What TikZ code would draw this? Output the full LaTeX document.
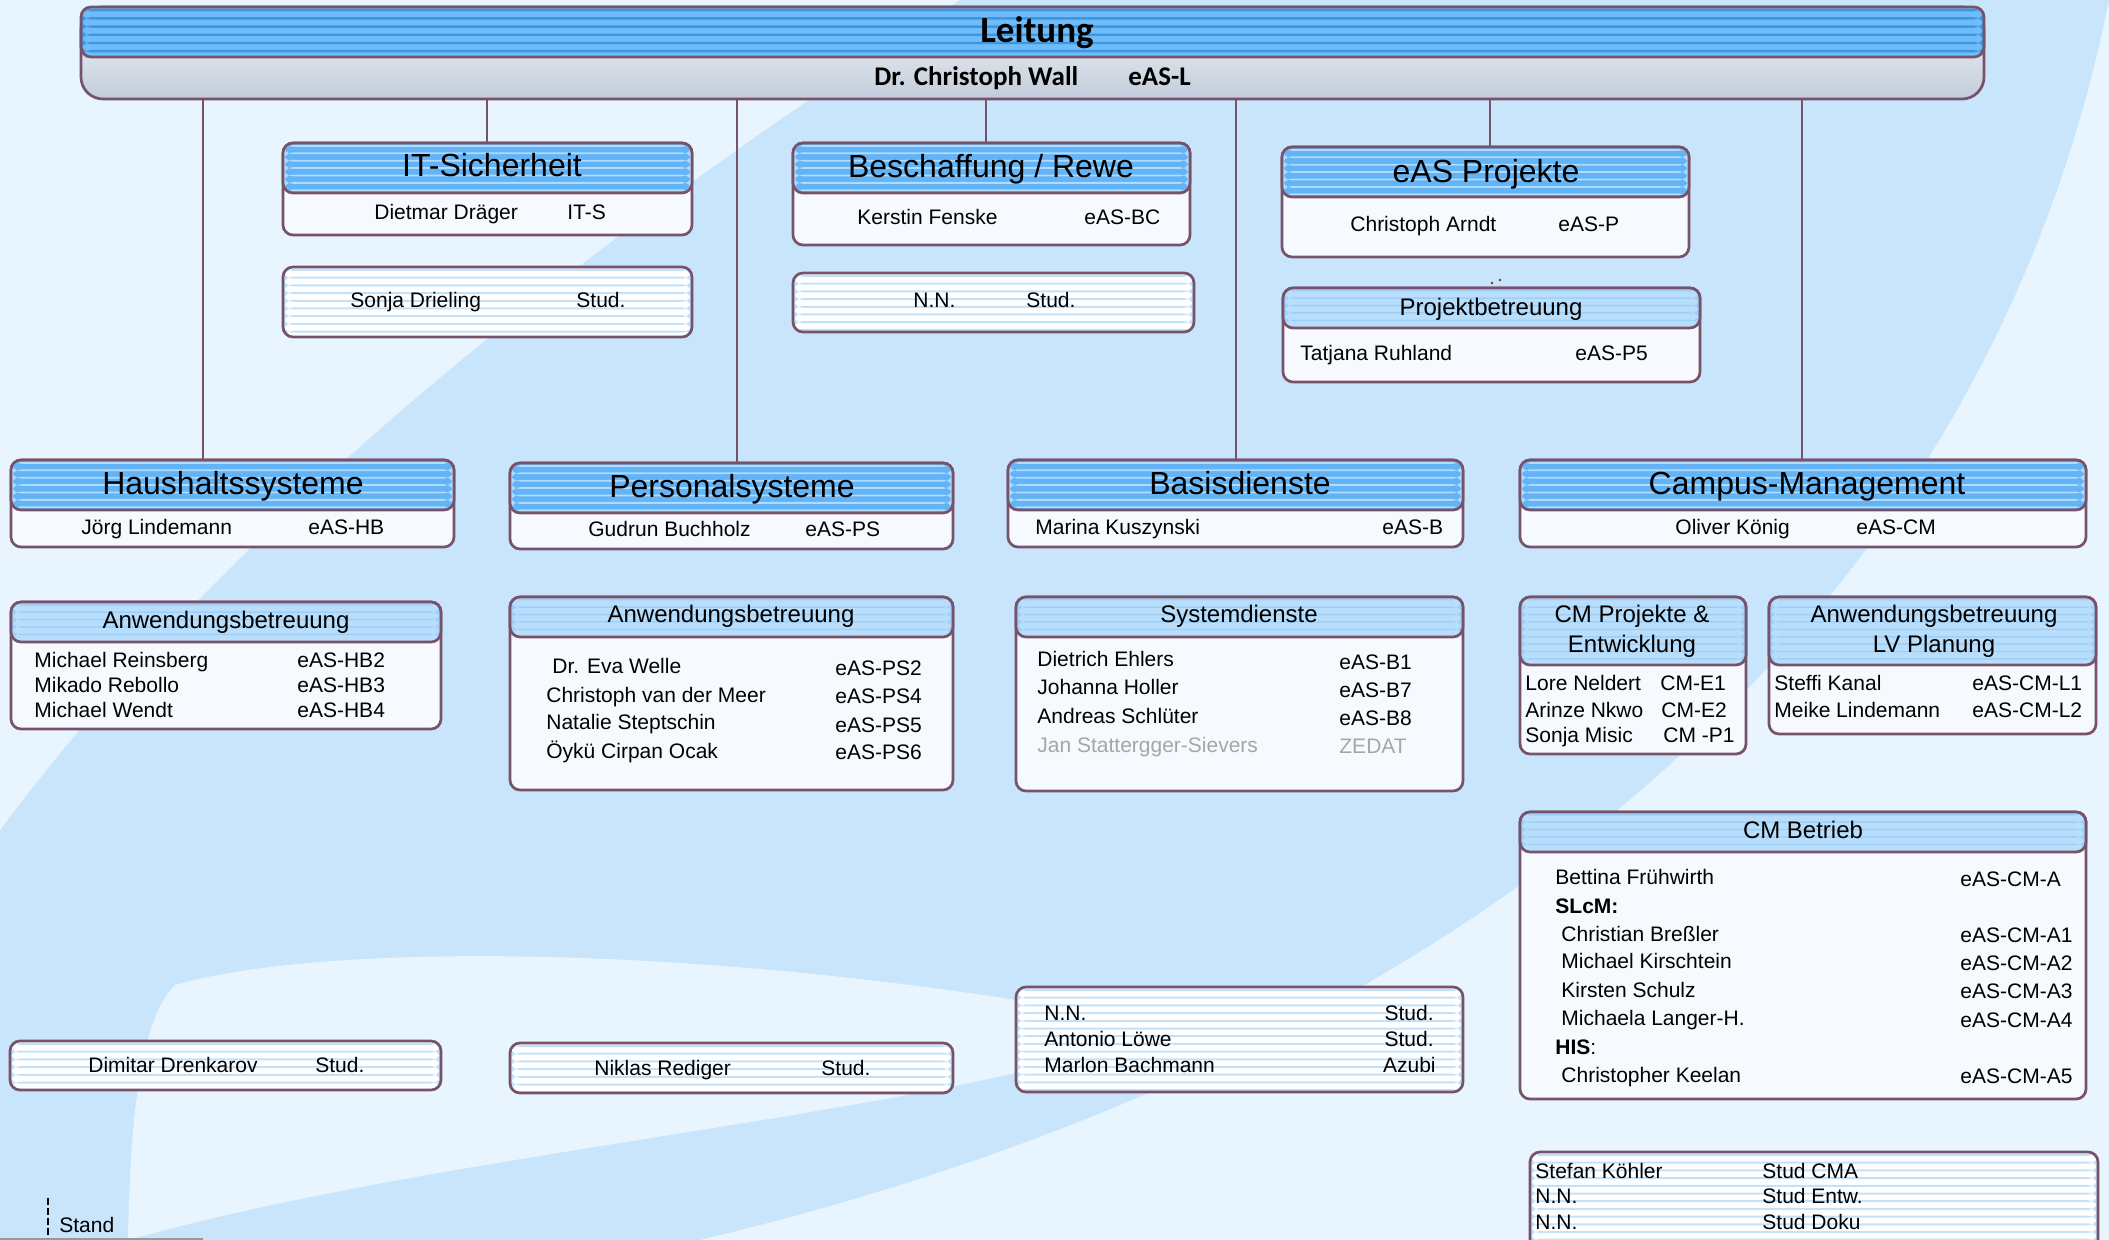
\documentclass[tikz,border=0pt]{standalone}
\usepackage{fontspec}
\setmainfont{Liberation Sans}
\newfontfamily\calfont{Carlito}
\usetikzlibrary{calc}
\definecolor{bgm}{HTML}{C9E5FC}
\definecolor{bgl}{HTML}{E8F4FE}
\definecolor{bord}{HTML}{76536A}
\definecolor{headA}{HTML}{63B4F6}
\definecolor{headAs}{HTML}{B0DBFD}
\definecolor{headB}{HTML}{B9DEFB}
\definecolor{headBs}{HTML}{9ECFF8}
\definecolor{leadA}{HTML}{6FBCF9}
\definecolor{leadAs}{HTML}{3D96E1}
\definecolor{studs}{HTML}{C2E2FB}
\definecolor{bodyc}{HTML}{F6FAFE}
\definecolor{leadtop}{HTML}{F6F8FB}
\definecolor{leadbot}{HTML}{C2CCDA}
\definecolor{greyt}{HTML}{A6A6A6}
\tikzset{
  bx/.style={draw=bord, line width=1.35pt, rounded corners=5pt, outer sep=0pt, inner sep=0pt},
  body/.style={bx, fill=bodyc},
  striped/.style n args={4}{fill=#1, path picture={%
     \foreach \k in {0,...,34}{%
       \fill[#2] ([yshift={-\k*#4-1pt}]path picture bounding box.north west) rectangle ([yshift={-\k*#4-1pt-#3}]path picture bounding box.north east);}}},
  mainhead/.style={bx, striped={headA}{headAs}{0.9pt}{3.7pt}},
  subhead/.style={bx, striped={headB}{headBs}{0.75pt}{3.7pt}},
  stud/.style={bx, striped={white}{studs}{1pt}{3.85pt}},
  leadhead/.style={bx, striped={leadA}{leadAs}{1.2pt}{4.1pt}},
  leadbody/.style={bx, rounded corners=11pt, top color=leadtop, bottom color=leadbot},
  conn/.style={draw=bord, line width=1pt},
  txt/.style={anchor=base west, inner sep=0pt, font=\fontsize{10.5}{12}\selectfont},
  txtr/.style={txt, anchor=base east},
  ttl/.style={anchor=base, inner sep=0pt, font=\fontsize{16}{18}\selectfont},
  sttl/.style={anchor=base, inner sep=0pt, font=\fontsize{12}{14}\selectfont},
  ttlL/.style={anchor=base, inner sep=0pt, font=\calfont\bfseries\fontsize{18.5}{20}\selectfont},
  boldL/.style={anchor=base west, inner sep=0pt, font=\calfont\bfseries\fontsize{13.5}{15}\selectfont},
}
\newcommand\obx[6]{\node[#6, anchor=north west, minimum width={(#4-#2)*0.5pt}, minimum height={(#5-#3)*0.5pt}] (#1) at (#2,#3) {};}
\newcommand\ptx[5][txt]{\node[#1] (#2) at (#3,#4) {#5};}
\begin{document}
\begin{tikzpicture}[x=0.5pt, y=-0.5pt]
\useasboundingbox (0,0) rectangle (2109,1240);
% background
\fill[bgm] (0,0) rectangle (2109,1240);
\fill[bgl] (0,0) -- (960,0) .. controls (600,230) and (230,520) .. (0,830) -- cycle;
\fill[bgl] (128,1240) .. controls (130,1120) and (140,1020) .. (175,985) .. controls (350,935) and (800,950) .. (1180,1030) .. controls (900,1120) and (450,1150) .. (128,1240) -- cycle;
\fill[bgl] (2109,0) -- (2109,1240) -- (700,1240) .. controls (1500,1050) and (1990,600) .. (2109,0) -- cycle;

% Leitung
\obx{lead}{81}{7}{1984}{99}{leadbody}
\obx{leadh}{81}{7}{1984}{57}{leadhead}

% boxes: bodies
\obx{its}{283}{143}{692}{235}{body}
\obx{bes}{793}{143}{1190}{245}{body}
\obx{eap}{1282}{147}{1689}{257}{body}
\obx{pb}{1283}{288}{1700}{382}{body}
\obx{hs}{11}{460}{454}{547}{body}
\obx{ps}{510}{463}{953}{549}{body}
\obx{bd}{1008}{460}{1463}{547}{body}
\obx{cm}{1520}{460}{2086}{547}{body}
\obx{ahb}{11}{602}{441}{729}{body}
\obx{aps}{510}{597}{953}{790}{body}
\obx{sd}{1016}{597}{1463}{791}{body}
\obx{cmp}{1520}{597}{1746}{754}{body}
\obx{lv}{1769}{597}{2096}{734}{body}
\obx{cmb}{1520}{812}{2086}{1099}{body}

% connectors
\coordinate (k1) at (203,0);
\coordinate (k2) at (487,0);
\coordinate (k3) at (737,0);
\coordinate (k4) at (986,0);
\coordinate (k5) at (1236,0);
\coordinate (k6) at (1490,0);
\coordinate (k7) at (1802,0);
\draw[conn] (k1 |- lead.south) -- (k1 |- hs.north);
\draw[conn] (k2 |- lead.south) -- (k2 |- its.north);
\draw[conn] (k3 |- lead.south) -- (k3 |- ps.north);
\draw[conn] (k4 |- lead.south) -- (k4 |- bes.north);
\draw[conn] (k5 |- lead.south) -- (k5 |- bd.north);
\draw[conn] (k6 |- lead.south) -- (k6 |- eap.north);
\draw[conn] (k7 |- lead.south) -- (k7 |- cm.north);

% headers
\obx{itsh}{283}{143}{692}{193}{mainhead}
\obx{besh}{793}{143}{1190}{193}{mainhead}
\obx{eaph}{1282}{147}{1689}{197}{mainhead}
\obx{pbh}{1283}{288}{1700}{328}{subhead}
\obx{hsh}{11}{460}{454}{510}{mainhead}
\obx{psh}{510}{463}{953}{513}{mainhead}
\obx{bdh}{1008}{460}{1463}{510}{mainhead}
\obx{cmh}{1520}{460}{2086}{510}{mainhead}
\obx{ahbh}{11}{602}{441}{642}{subhead}
\obx{apsh}{510}{597}{953}{637}{subhead}
\obx{sdh}{1016}{597}{1463}{637}{subhead}
\obx{cmph}{1520}{597}{1746}{665}{subhead}
\obx{lvh}{1769}{597}{2096}{665}{subhead}
\obx{cmbh}{1520}{812}{2086}{852}{subhead}

% student boxes
\obx{its2}{283}{267}{692}{337}{stud}
\obx{bes2}{793}{273}{1194}{332}{stud}
\obx{dim}{10}{1041}{441}{1090}{stud}
\obx{nik}{510}{1043}{953}{1093}{stud}
\obx{nna}{1016}{987}{1463}{1092}{stud}
\obx{stk}{1530}{1152}{2098}{1262}{stud}

% small dots
\fill[bord!70!black] (1492,283) circle (1.3);
\fill[bord!70!black] (1500,280) circle (1.3);

% texts: Leitung
\ptx[ttlL]{tlead}{1037}{43}{Leitung}
\ptx[boldL]{tlead1}{874}{86}{Dr. Christoph Wall}
\ptx[boldL]{tlead2}{1128}{86}{eAS-L}

% titles
\ptx[ttl]{titS}{492}{177}{IT-Sicherheit}
\ptx[ttl]{tbes}{991}{178}{Beschaffung / Rewe}
\ptx[ttl]{teap}{1486}{183}{eAS Projekte}
\ptx[sttl]{tpb}{1491}{316}{Projektbetreuung}
\ptx[ttl]{ths}{233}{495}{Haushaltssysteme}
\ptx[ttl]{tps}{732}{498}{Personalsysteme}
\ptx[ttl]{tbd}{1240}{495}{Basisdienste}
\ptx[ttl]{tcm}{1807}{495}{Campus-Management}
\ptx[sttl]{tahb}{226}{628}{Anwendungsbetreuung}
\ptx[sttl]{taps}{731}{623}{Anwendungsbetreuung}
\ptx[sttl]{tsd}{1239}{623}{Systemdienste}
\ptx[sttl]{tcmp1}{1632}{623}{CM Projekte \&}
\ptx[sttl]{tcmp2}{1632}{652}{Entwicklung}
\ptx[sttl]{tlv1}{1934}{623}{Anwendungsbetreuung}
\ptx[sttl]{tlv2}{1934}{652}{LV Planung}
\ptx[sttl]{tcmb}{1803}{838}{CM Betrieb}

% persons
\ptx{p1}{374}{220}{Dietmar Dräger}
\ptx{c1}{567}{220}{IT-S}
\ptx{p2}{350}{308}{Sonja Drieling}
\ptx{c2}{576}{308}{Stud.}
\ptx{p3}{857}{225}{Kerstin Fenske}
\ptx{c3}{1084}{225}{eAS-BC}
\ptx{p4}{913}{308}{N.N.}
\ptx{c4}{1026}{308}{Stud.}
\ptx{p5}{1350}{232}{Christoph Arndt}
\ptx{c5}{1558}{232}{eAS-P}
\ptx{p6}{1300}{361}{Tatjana Ruhland}
\ptx{c6}{1575}{361}{eAS-P5}
\ptx{p7}{81}{535}{Jörg Lindemann}
\ptx{c7}{308}{535}{eAS-HB}
\ptx{p8}{588}{537}{Gudrun Buchholz}
\ptx{c8}{805}{537}{eAS-PS}
\ptx{p9}{1035}{535}{Marina Kuszynski}
\ptx{c9}{1382}{535}{eAS-B}
\ptx{p10}{1675}{535}{Oliver König}
\ptx{c10}{1856}{535}{eAS-CM}

\ptx{p11}{34}{667}{Michael Reinsberg}
\ptx{c11}{297}{667}{eAS-HB2}
\ptx{p12}{34}{692}{Mikado Rebollo}
\ptx{c12}{297}{692}{eAS-HB3}
\ptx{p13}{34}{717}{Michael Wendt}
\ptx{c13}{297}{717}{eAS-HB4}

\ptx{p14}{552}{673}{Dr. Eva Welle}
\ptx{c14}{835}{675}{eAS-PS2}
\ptx{p15}{546}{702}{Christoph van der Meer}
\ptx{c15}{835}{703}{eAS-PS4}
\ptx{p16}{546}{729}{Natalie Steptschin}
\ptx{c16}{835}{732}{eAS-PS5}
\ptx{p17}{546}{758}{Öykü Cirpan Ocak}
\ptx{c17}{835}{759}{eAS-PS6}

\ptx{p18}{1037}{666}{Dietrich Ehlers}
\ptx{c18}{1339}{669}{eAS-B1}
\ptx{p19}{1037}{694}{Johanna Holler}
\ptx{c19}{1339}{697}{eAS-B7}
\ptx{p20}{1037}{723}{Andreas Schlüter}
\ptx{c20}{1339}{725}{eAS-B8}
\ptx[txt, text=greyt]{p21}{1037}{752}{Jan Stattergger-Sievers}
\ptx[txt, text=greyt]{c21}{1339}{753}{ZEDAT}

\ptx{p22}{1525}{690}{Lore Neldert}
\ptx{c22}{1660}{690}{CM-E1}
\ptx{p23}{1525}{717}{Arinze Nkwo}
\ptx{c23}{1661}{717}{CM-E2}
\ptx{p24}{1525}{742}{Sonja Misic}
\ptx{c24}{1663}{742}{CM -P1}

\ptx{p25}{1774}{690}{Steffi Kanal}
\ptx{c25}{1972}{690}{eAS-CM-L1}
\ptx{p26}{1774}{717}{Meike Lindemann}
\ptx{c26}{1972}{717}{eAS-CM-L2}

\ptx{p27}{1555}{884}{Bettina Frühwirth}
\ptx{c27}{1960}{886}{eAS-CM-A}
\ptx{p28}{1555}{913}{\textbf{SLcM:}}
\ptx{p29}{1561}{941}{Christian Breßler}
\ptx{c29}{1960}{942}{eAS-CM-A1}
\ptx{p30}{1561}{968}{Michael Kirschtein}
\ptx{c30}{1960}{970}{eAS-CM-A2}
\ptx{p31}{1561}{997}{Kirsten Schulz}
\ptx{c31}{1960}{998}{eAS-CM-A3}
\ptx{p32}{1561}{1025}{Michaela Langer-H.}
\ptx{c32}{1960}{1027}{eAS-CM-A4}
\ptx{p33}{1555}{1054}{\textbf{HIS}:}
\ptx{p34}{1561}{1082}{Christopher Keelan}
\ptx{c34}{1960}{1083}{eAS-CM-A5}

\ptx{p35}{88}{1072}{Dimitar Drenkarov}
\ptx{c35}{315}{1072}{Stud.}
\ptx{p36}{594}{1075}{Niklas Rediger}
\ptx{c36}{821}{1075}{Stud.}

\ptx{p37}{1044}{1020}{N.N.}
\ptx[txtr]{c37}{1434}{1020}{Stud.}
\ptx{p38}{1044}{1046}{Antonio Löwe}
\ptx[txtr]{c38}{1434}{1046}{Stud.}
\ptx{p39}{1044}{1072}{Marlon Bachmann}
\ptx[txtr]{c39}{1436}{1072}{Azubi}

\ptx{p40}{1535}{1178}{Stefan Köhler}
\ptx{c40}{1762}{1178}{Stud CMA}
\ptx{p41}{1535}{1203}{N.N.}
\ptx{c41}{1762}{1203}{Stud Entw.}
\ptx{p42}{1535}{1229}{N.N.}
\ptx{c42}{1762}{1229}{Stud Doku}

% Stand
\coordinate (st1) at (48,1198);
\coordinate (st2) at (48,1240);
\draw[line width=0.6pt, dash pattern=on 3.5pt off 1.5pt] (st1) -- (st2);
\ptx{stand}{59}{1232}{Stand}
\coordinate (gl1) at (0,1239);
\coordinate (gl2) at (203,1239);
\draw[line width=1.5pt, black!40] (gl1) -- (gl2);
\end{tikzpicture}
\end{document}
